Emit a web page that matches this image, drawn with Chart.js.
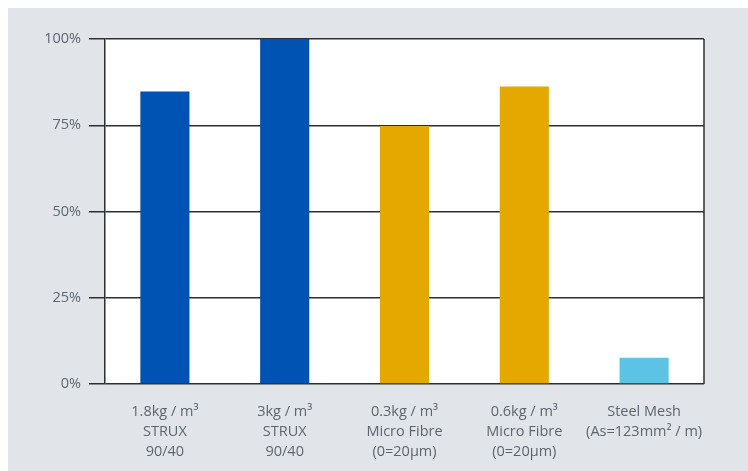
<!DOCTYPE html>
<html lang="en">
<head>
  <meta charset="UTF-8">
  <title>Crack Control Comparison</title>
  <script src="https://cdn.jsdelivr.net/npm/chart.js"></script>
  <style>
    html, body { margin: 0; padding: 0; background: #ffffff; }
    #wrap { width: 748px; height: 471px; position: relative; }
  </style>
</head>
<body>
  <div id="wrap"><canvas id="barChart"></canvas></div>

  <script>
    const categories = [
      ['1.8kg / m³', 'STRUX', '90/40'],
      ['3kg / m³', 'STRUX', '90/40'],
      ['0.3kg / m³', 'Micro Fibre', '(0=20µm)'],
      ['0.6kg / m³', 'Micro Fibre', '(0=20µm)'],
      ['Steel Mesh', '(As=123mm² / m)']
    ];
    const values = [84.8, 100, 74.8, 86.2, 7.6];
    const barColors = ['#0053b3', '#0053b3', '#e5a800', '#e5a800', '#5cc2e6'];
    const yTicks = [0, 25, 50, 75, 100];

    const textGrey = '#5c6672';
    const lineDark = '#2e2e2e';

    // grey panel + white plot area + right border
    const panel = {
      id: 'panel',
      beforeDraw(chart) {
        const { ctx, chartArea: a } = chart;
        ctx.save();
        ctx.fillStyle = '#e1e5e9';
        ctx.fillRect(8, 8, chart.width - 8, chart.height - 8);
        ctx.fillStyle = '#ffffff';
        ctx.fillRect(a.left, a.top, a.right - a.left, a.bottom - a.top);
        ctx.restore();
      },
      afterDraw(chart) {
        const { ctx, chartArea: a } = chart;
        ctx.save();
        ctx.strokeStyle = lineDark;
        ctx.lineWidth = 1.5;
        ctx.beginPath();
        ctx.moveTo(a.right, a.top);
        ctx.lineTo(a.right, a.bottom);
        ctx.stroke();
        ctx.restore();
      }
    };

    const ctx = document.getElementById('barChart').getContext('2d');
    new Chart(ctx, {
      type: 'bar',
      data: {
        labels: categories,
        datasets: [{
          data: values,
          backgroundColor: barColors,
          borderWidth: 0,
          barPercentage: 0.41,
          categoryPercentage: 1
        }]
      },
      options: {
        responsive: true,
        maintainAspectRatio: false,
        animation: false,
        layout: { padding: { left: 0, right: 44, top: 39, bottom: 0 } },
        plugins: {
          legend: { display: false },
          tooltip: { enabled: false }
        },
        scales: {
          x: {
            grid: { display: false },
            border: { display: false },
            ticks: {
              color: textGrey,
              font: { family: 'Open Sans', size: 14.5, lineHeight: '20px' },
              padding: 10,
              maxRotation: 0,
              autoSkip: false
            },
            afterFit(scale) { scale.height = 87; }
          },
          y: {
            min: 0,
            max: 100,
            afterBuildTicks(scale) { scale.ticks = yTicks.map(v => ({ value: v })); },
            grid: {
              color: lineDark,
              lineWidth: 1.5,
              drawTicks: true,
              tickLength: 16,
              tickColor: lineDark
            },
            border: { display: true, color: lineDark, width: 1.5 },
            ticks: {
              color: textGrey,
              font: { family: 'Open Sans', size: 14.5 },
              padding: 8,
              callback: v => v + '%'
            },
            afterFit(scale) { scale.width = 105; }
          }
        }
      },
      plugins: [panel]
    });
  </script>
</body>
</html>
